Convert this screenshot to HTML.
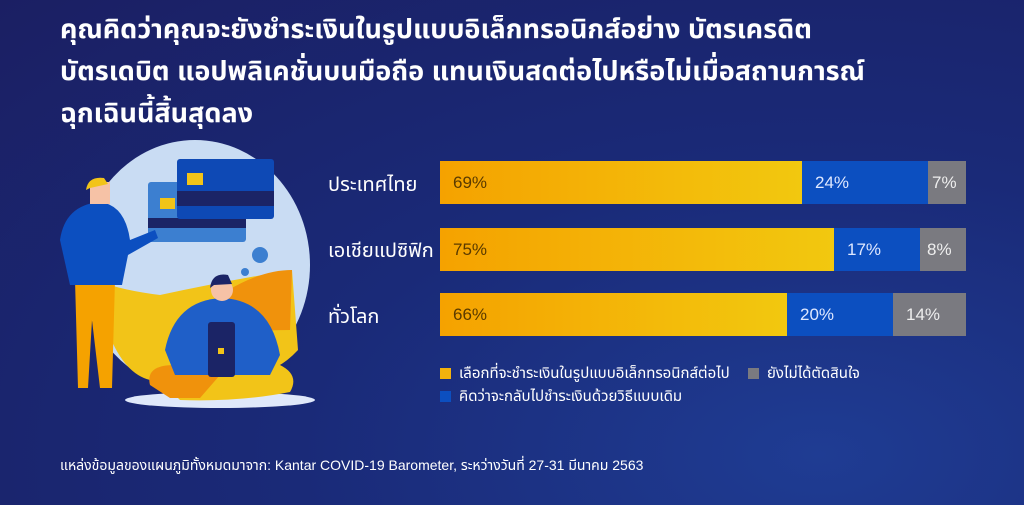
<!DOCTYPE html>
<html><head><meta charset="utf-8"><style>
body{margin:0;width:1024px;height:505px;overflow:hidden;background:radial-gradient(ellipse at 80% 90%,#1f3c93 0%,#1a2a78 45%,#1b1f63 100%);font-family:"Liberation Sans","Noto Sans Thai","Loma","Garuda",sans-serif;color:#fff;position:relative}
.t{position:absolute;left:60px;top:8px;font-size:27px;font-weight:bold;line-height:42px;width:960px;white-space:nowrap}
.lab{position:absolute;left:328px;font-size:20px;color:#fff}
.bar{position:absolute;left:440px;width:526px;height:43px;display:flex;font-size:17px}
.bar div{display:flex;align-items:center;padding-left:13px;box-sizing:border-box}
.y{background:linear-gradient(90deg,#f5a200,#f2c80f);color:#5a3a00}
.b{background:#0c4fc0;color:#dfe8ff}
.g{background:#7a7a80;color:#eee}
.leg{position:absolute;font-size:15px;color:#fff;display:flex;align-items:center}
.leg i{display:inline-block;width:11px;height:11px;margin-right:8px}
.src{position:absolute;left:60px;top:456px;font-size:14px;color:#fff}
</style></head><body>
<div class="t">คุณคิดว่าคุณจะยังชำระเงินในรูปแบบอิเล็กทรอนิกส์อย่าง บัตรเครดิต<br>บัตรเดบิต แอปพลิเคชั่นบนมือถือ แทนเงินสดต่อไปหรือไม่เมื่อสถานการณ์<br>ฉุกเฉินนี้สิ้นสุดลง</div>
<svg style="position:absolute;left:0;top:130px" width="440" height="290">
<ellipse cx="195" cy="135" rx="115" ry="125" fill="#c9dcf3"/>
<path d="M95 150 Q120 160 160 165 Q230 150 292 140 L298 220 Q270 250 240 240 L150 250 Q110 240 95 150Z" fill="#f2c418"/>
<path d="M200 180 Q250 140 292 140 L290 200 Q240 200 210 210Z" fill="#f0920c"/>
<rect x="148" y="52" width="98" height="60" rx="3" fill="#3c7fd0"/>
<rect x="148" y="88" width="98" height="10" fill="#1b2466"/>
<rect x="160" y="68" width="15" height="11" fill="#f2c418"/>
<rect x="177" y="29" width="97" height="60" rx="3" fill="#0e49b5"/>
<rect x="177" y="61" width="97" height="15" fill="#1b2466"/>
<rect x="187" y="43" width="16" height="12" fill="#f2c418"/>
<circle cx="260" cy="125" r="8" fill="#3c7fd0"/><circle cx="245" cy="142" r="4" fill="#3c7fd0"/>
<path d="M75 150 L115 150 L112 258 L100 258 L92 190 L88 258 L78 258Z" fill="#f5a200"/>
<path d="M60 110 Q65 75 100 72 Q125 75 130 110 L155 100 L158 108 L128 125 L122 155 L70 155Z" fill="#0c4fc0"/>
<rect x="90" y="52" width="20" height="22" fill="#f6c2a6"/><path d="M86 60 Q88 46 104 48 L108 54 L90 58Z" fill="#f2c418"/>
<ellipse cx="220" cy="270" rx="95" ry="8" fill="#dfe8fa"/>
<path d="M160 250 Q150 230 185 232 L280 235 Q300 245 290 262 Q240 272 180 270Z" fill="#f2c418"/>
<path d="M150 255 Q145 235 175 235 L220 245 L200 268 L170 268Z" fill="#f0920c"/>
<path d="M165 220 Q175 170 222 168 Q270 170 280 225 L270 245 L175 245Z" fill="#1f5fc8"/>
<rect x="208" y="192" width="27" height="55" rx="3" fill="#1b2466"/>
<rect x="218" y="218" width="6" height="6" fill="#f2c418"/>
<circle cx="222" cy="160" r="11" fill="#f6c2a6"/><path d="M210 158 Q212 142 228 145 L232 154 L214 155Z" fill="#1b2466"/>
</svg>
<div class="lab" style="top:170px">ประเทศไทย</div>
<div class="lab" style="top:236px">เอเชียแปซิฟิก</div>
<div class="lab" style="top:302px">ทั่วโลก</div>
<div class="bar" style="top:161px"><div class="y" style="width:362px">69%</div><div class="b" style="width:126px">24%</div><div class="g" style="width:38px;padding-left:4px">7%</div></div>
<div class="bar" style="top:228px"><div class="y" style="width:394px">75%</div><div class="b" style="width:86px">17%</div><div class="g" style="width:46px;padding-left:7px">8%</div></div>
<div class="bar" style="top:293px"><div class="y" style="width:347px">66%</div><div class="b" style="width:106px">20%</div><div class="g" style="width:73px">14%</div></div>
<div class="leg" style="left:440px;top:362px"><i style="background:#f2b20c"></i>เลือกที่จะชำระเงินในรูปแบบอิเล็กทรอนิกส์ต่อไป</div>
<div class="leg" style="left:748px;top:362px"><i style="background:#7a7a80"></i>ยังไม่ได้ตัดสินใจ</div>
<div class="leg" style="left:440px;top:385px"><i style="background:#0c4fc0"></i>คิดว่าจะกลับไปชำระเงินด้วยวิธีแบบเดิม</div>
<div class="src">แหล่งข้อมูลของแผนภูมิทั้งหมดมาจาก: Kantar COVID-19 Barometer, ระหว่างวันที่ 27-31 มีนาคม 2563</div>
</body></html>
